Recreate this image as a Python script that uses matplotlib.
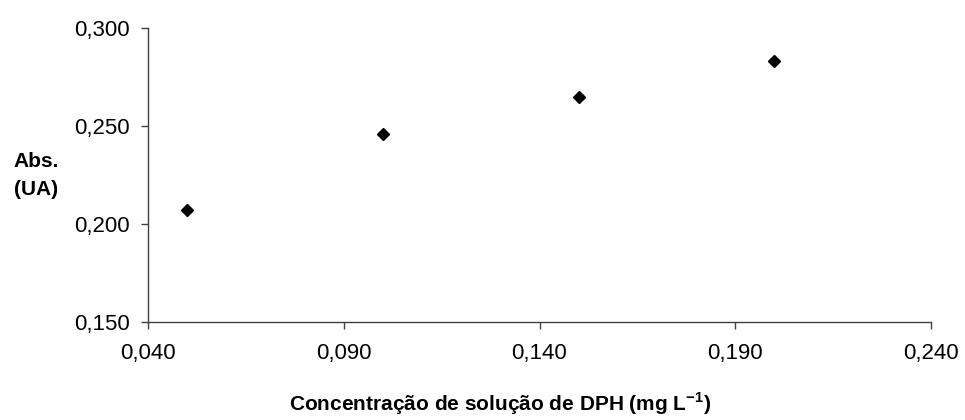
import matplotlib
matplotlib.use('Agg')
from matplotlib import pyplot as plt
from matplotlib.ticker import FuncFormatter

# dados
concentracao = [0.050, 0.100, 0.150, 0.200]
absorbancia = [0.207, 0.246, 0.265, 0.283]
xticks = [0.040, 0.090, 0.140, 0.190, 0.240]
yticks = [0.150, 0.200, 0.250, 0.300]

plt.rcParams['font.family'] = ['Liberation Sans', 'DejaVu Sans']
plt.rcParams['mathtext.fontset'] = 'custom'
plt.rcParams['mathtext.rm'] = 'Liberation Sans'
plt.rcParams['mathtext.bf'] = 'Liberation Sans:bold'

fig = plt.figure(figsize=(9.65, 4.2), dpi=100)
ax = fig.add_axes([148 / 965, 1 - 322 / 420, (931 - 148) / 965, (322 - 28) / 420])

ax.plot(concentracao, absorbancia, linestyle='none', marker='D', color='black', markersize=6.5)

ax.set_xlim(0.040, 0.240)
ax.set_ylim(0.150, 0.300)
ax.set_xticks(xticks)
ax.set_yticks(yticks)

virgula = FuncFormatter(lambda v, p: ('%.3f' % v).replace('.', ','))
ax.xaxis.set_major_formatter(virgula)
ax.yaxis.set_major_formatter(virgula)

for lado in ['top', 'right']:
    ax.spines[lado].set_visible(False)
for lado in ['left', 'bottom']:
    ax.spines[lado].set_color('#404040')
    ax.spines[lado].set_linewidth(1)

ax.tick_params(direction='out', length=5, width=1, color='#404040', labelsize=16)
ax.tick_params(axis='x', pad=10)
ax.tick_params(axis='y', pad=8)

# rotulo do eixo y em duas linhas
fig.text(36 / 965, 1 - 167 / 420, 'Abs.', ha='center', va='baseline',
         fontsize=15, fontweight='bold')
fig.text(36 / 965, 1 - 195 / 420, '(UA)', ha='center', va='baseline',
         fontsize=15, fontweight='bold')
fig.text(500 / 965, 1 - 411 / 420, 'Concentração de solução de DPH (mg L$^{\\mathbf{-1}}$)',
         ha='center', va='baseline', fontsize=15, fontweight='bold')

fig.savefig('out.png', dpi=100)
